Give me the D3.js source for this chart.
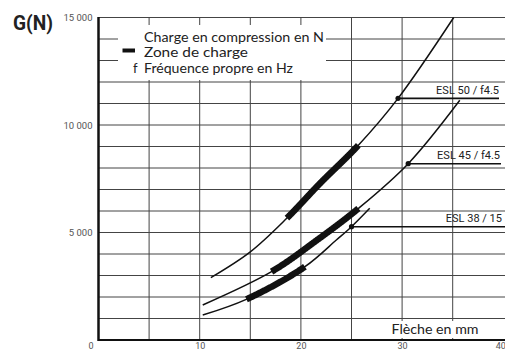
<!DOCTYPE html>
<html>
<head>
<meta charset="utf-8">
<script src="https://cdn.jsdelivr.net/npm/d3@7"></script>
<style>
  html, body { margin: 0; padding: 0; background: #fff; }
  svg { display: block; }
</style>
</head>
<body>
<svg id="chart" width="505" height="351"></svg>
<script>
// ---------- data ----------
const xTickValues = [0, 10, 20, 30, 40];
const xTickLabels = ["0", "10", "20", "30", "40"];
const yTickValues = [5000, 10000, 15000];
const yTickLabels = ["5 000", "10 000", "15 000"];
const xGridValues = [5, 10, 15, 20, 25, 30, 35];
const yGridValues = [1000, 2000, 3000, 4000, 5000, 6000, 7000, 8000, 9000, 10000, 11000, 12000, 13000, 14000, 15000];

const seriesNames = ["ESL 50 / f4.5", "ESL 45 / f4.5", "ESL 38 / 15"];
// deflection (mm)
const esl50X = [11.1, 15.0, 18.6, 21.9, 25.7, 29.6, 35.1];
const esl50Y = [2900, 4100, 5660, 7290, 9070, 11240, 15000];
const esl45X = [10.3, 17.1, 21.6, 25.7, 30.6, 35.7];
const esl45Y = [1630, 3180, 4650, 6125, 8200, 11150];
const esl38X = [10.3, 14.6, 20.4, 23.5, 25.0, 26.8];
const esl38Y = [1160, 1890, 3410, 4650, 5270, 6125];
// load zone (thick part) x-ranges
const zoneStart = [18.6, 17.1, 14.6];
const zoneEnd = [25.7, 25.7, 20.4];
// natural frequency marks
const freqX = [29.6, 30.6, 25.0];
const freqY = [11240, 8200, 5270];

const legendLines = ["Charge en compression en N", "Zone de charge", "Fréquence propre en Hz"];
const yTitle = "G(N)";
const xTitle = "Flèche en mm";

// ---------- drawing ----------
const svg = d3.select("#chart");
const x = d3.scaleLinear().domain([0, 40]).range([98.5, 503.3]);
const y = d3.scaleLinear().domain([0, 15000]).range([340, 17.5]);

const gridColor = "#444";

// grid
svg.append("g").selectAll("line").data(yGridValues).join("line")
  .attr("x1", x(0)).attr("x2", 505)
  .attr("y1", d => y(d)).attr("y2", d => y(d))
  .attr("stroke", gridColor).attr("stroke-width", 1);
svg.append("g").selectAll("line").data(xGridValues).join("line")
  .attr("x1", d => x(d)).attr("x2", d => x(d))
  .attr("y1", y(15000)).attr("y2", y(0))
  .attr("stroke", gridColor).attr("stroke-width", 1);

// white boxes behind legend and x title
svg.append("rect").attr("x", 118).attr("y", 25).attr("width", 208).attr("height", 55).attr("fill", "#fff");
svg.append("rect").attr("x", 388).attr("y", 321).attr("width", 97).attr("height", 17).attr("fill", "#fff");

// axes lines
svg.append("line").attr("x1", x(0)).attr("x2", x(0)).attr("y1", y(15000) - 0.5).attr("y2", y(0) + 1)
  .attr("stroke", "#111").attr("stroke-width", 2.5);
svg.append("line").attr("x1", x(0)).attr("x2", 505).attr("y1", y(0)).attr("y2", y(0))
  .attr("stroke", "#111").attr("stroke-width", 2.2);

// tick labels
const yAxis = d3.axisLeft(y).tickValues(yTickValues).tickSize(0)
  .tickFormat((d, i) => yTickLabels[i]);
const yg = svg.append("g").attr("transform", `translate(${x(0) - 6},0)`).call(yAxis);
yg.select(".domain").remove();
yg.selectAll("text").attr("font-family", "'Liberation Sans Narrow', 'Roboto', sans-serif")
  .attr("font-size", 9.5).attr("fill", "#555").attr("x", 0);

const xAxis = d3.axisBottom(x).tickValues(xTickValues).tickSize(0)
  .tickFormat((d, i) => xTickLabels[i]);
const xg = svg.append("g").attr("transform", `translate(0,${y(0) - 0.5})`).call(xAxis);
xg.select(".domain").remove();
xg.selectAll("text").attr("font-family", "'Liberation Sans Narrow', 'Roboto', sans-serif")
  .attr("font-size", 9).attr("fill", "#555")
  .attr("dx", d => d === 0 ? -8 : (d === 40 ? -3 : 0));

// curves
const seriesX = [esl50X, esl45X, esl38X];
const seriesY = [esl50Y, esl45Y, esl38Y];
const line = d3.line().x(d => x(d[0])).y(d => y(d[1])).curve(d3.curveCatmullRom.alpha(0.5));
const plain = d3.line();

seriesX.forEach((xs, s) => {
  const pts = xs.map((v, i) => [v, seriesY[s][i]]);
  const path = svg.append("path").attr("d", line(pts))
    .attr("fill", "none").attr("stroke", "#111").attr("stroke-width", 1.5);
  // thick load zone along the same curve
  const node = path.node();
  const L = node.getTotalLength();
  const x0 = x(zoneStart[s]), x1 = x(zoneEnd[s]);
  const sample = [];
  for (let l = 0; l <= L; l += 0.5) {
    const p = node.getPointAtLength(l);
    if (p.x >= x0 && p.x <= x1) sample.push([p.x, p.y]);
  }
  svg.append("path").attr("d", plain(sample))
    .attr("fill", "none").attr("stroke", "#111").attr("stroke-width", 6.5)
    .attr("stroke-linecap", "butt");
});

// frequency marks + callouts
const calloutEnd = [499, 501, 505];
const labelEnd = [499, 500, 502];
freqX.forEach((fx, i) => {
  const cx = x(fx), cy = y(freqY[i]);
  svg.append("line").attr("x1", cx).attr("x2", calloutEnd[i]).attr("y1", cy).attr("y2", cy)
    .attr("stroke", "#111").attr("stroke-width", 1.6);
  svg.append("circle").attr("cx", cx).attr("cy", cy).attr("r", 2.6).attr("fill", "#111");
  svg.append("text").attr("x", labelEnd[i]).attr("y", cy - 4.5)
    .attr("text-anchor", "end")
    .attr("font-family", "'Liberation Sans Narrow', 'Roboto', sans-serif")
    .attr("font-size", 11).attr("fill", "#222")
    .text(seriesNames[i]);
});

// legend
const legFont = "'Lato', 'Open Sans', sans-serif";
const legW = [180, 104, 149];
const legBase = [41.5, 57, 73];
legendLines.forEach((t, i) => {
  svg.append("text").attr("x", 144).attr("y", legBase[i])
    .attr("font-family", legFont).attr("font-size", 14).attr("fill", "#222")
    .attr("textLength", legW[i]).attr("lengthAdjust", "spacingAndGlyphs")
    .text(t);
});
svg.append("line").attr("x1", 122.5).attr("x2", 135).attr("y1", 50.5).attr("y2", 50.5)
  .attr("stroke", "#111").attr("stroke-width", 4);
svg.append("text").attr("x", 133).attr("y", legBase[2])
  .attr("font-family", legFont).attr("font-size", 13).attr("fill", "#222").text("f");

// titles
svg.append("text").attr("x", 13).attr("y", 29.5)
  .attr("font-family", "'Liberation Sans Narrow', 'Roboto', sans-serif")
  .attr("font-weight", "bold").attr("font-size", 21).attr("fill", "#222")
  .attr("textLength", 40).attr("lengthAdjust", "spacingAndGlyphs")
  .text(yTitle);
svg.append("text").attr("x", 391.5).attr("y", 333.5)
  .attr("font-family", legFont).attr("font-size", 14).attr("fill", "#222")
  .attr("textLength", 87).attr("lengthAdjust", "spacingAndGlyphs")
  .text(xTitle);
</script>
</body>
</html>
